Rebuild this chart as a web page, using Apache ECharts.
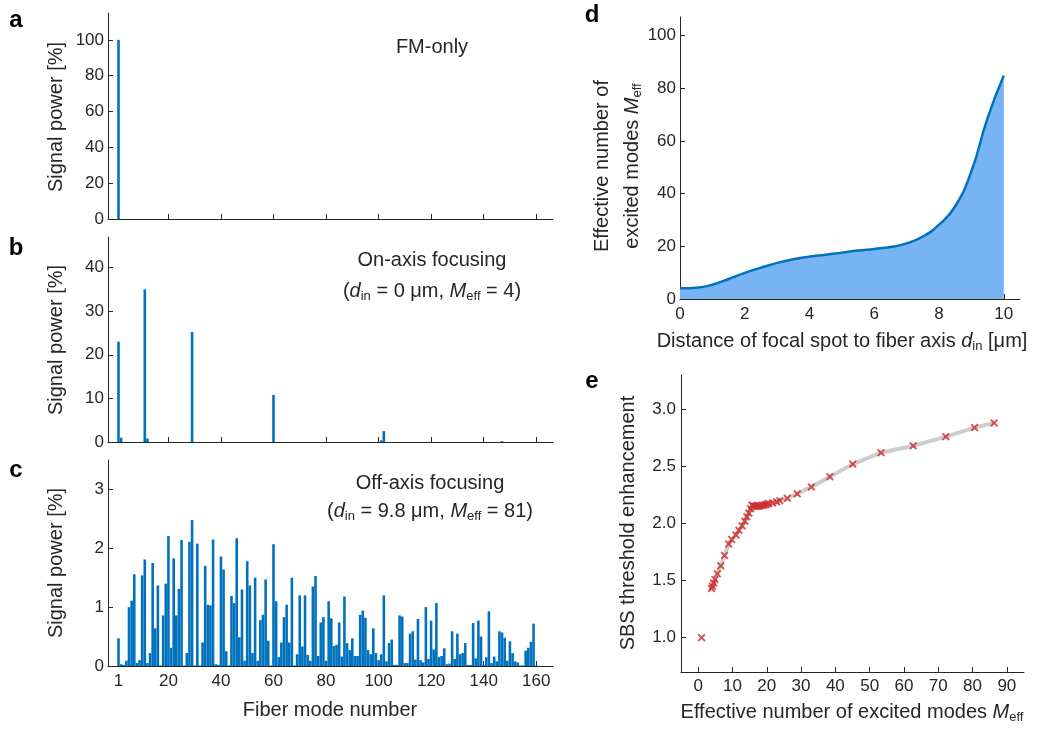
<!DOCTYPE html>
<html>
<head>
<meta charset="utf-8">
<script src="https://cdn.jsdelivr.net/npm/echarts@6/dist/echarts.min.js"></script>
<style>
  html, body { margin: 0; padding: 0; background: #fff; }
  #chart { width: 1053px; height: 731px; }
</style>
</head>
<body>
<div id="chart"></div>
<script>
// Mode-number ticks shared by panels a-c
const modeTicks = [1, 20, 40, 60, 80, 100, 120, 140, 160];

// a: fundamental mode only (mode number, signal power in %)
const fmOnlyModes = [1];
const fmOnlyPower = [100];

// b: on-axis focusing
const onAxisModes = [1, 2, 11, 12, 29, 60, 101, 102, 147];
const onAxisPower = [23.0, 1.0, 35.0, 0.8, 25.2, 10.8, 0.4, 2.5, 0.2];

// c: off-axis focusing, power of modes 1..160
const offAxisPower = [
  0.47, 0.03, 0.02, 0.09, 1.00, 1.11, 1.56, 0.05, 0.10, 1.54,
  1.81, 0.05, 0.22, 1.75, 0.64, 1.37, 0.01, 0.86, 1.40, 2.21,
  0.31, 1.83, 0.86, 1.31, 2.14, 0.01, 0.22, 2.11, 2.48, 0.01,
  2.08, 0.01, 0.40, 1.70, 1.04, 1.03, 2.15, 0.03, 0.02, 1.86,
  1.64, 0.25, 0.01, 1.19, 1.07, 2.17, 0.49, 1.30, 0.09, 1.78,
  1.37, 0.22, 1.50, 0.09, 0.78, 0.87, 1.47, 0.43, 0.01, 2.07,
  1.10, 0.15, 0.40, 0.83, 1.04, 0.40, 1.50, 0.01, 0.20, 1.20,
  0.33, 1.20, 0.19, 0.09, 1.35, 1.53, 0.17, 0.74, 0.83, 0.09,
  1.10, 0.81, 0.34, 0.36, 0.74, 0.16, 1.18, 0.39, 0.27, 0.47,
  0.17, 0.17, 0.87, 0.94, 0.82, 0.27, 0.20, 0.64, 0.22, 0.10,
  0.20, 1.20, 0.08, 0.39, 0.45, 0.02, 0.02, 0.86, 0.84, 0.05,
  0.05, 0.55, 0.59, 0.11, 0.80, 0.10, 0.06, 1.00, 0.12, 0.77,
  0.28, 1.07, 0.15, 0.17, 0.30, 0.03, 0.04, 0.59, 0.12, 0.55,
  0.20, 0.22, 0.39, 0.02, 0.02, 0.73, 0.13, 0.77, 0.50, 0.02,
  0.15, 0.93, 0.05, 0.16, 0.08, 0.59, 0.57, 0.48, 0.09, 0.42,
  0.22, 0.08, 0.06, 0.01, 0.01, 0.26, 0.31, 0.41, 0.72, 0.01
];

// d: effective mode number vs. focal-spot offset d_in (µm)
const dinUm = [0, 0.5, 1, 1.5, 2, 2.5, 3, 3.5, 4, 4.5, 5, 5.5, 6, 6.5, 7, 7.5, 8, 8.5, 9, 9.5, 10];
const meffCurve = [4.1, 4.3, 5.4, 7.6, 9.9, 11.9, 13.7, 15.1, 16.1, 16.8, 17.6, 18.4, 19.0, 19.7, 21.1, 23.7, 28.2, 35.2, 48.5, 68.7, 84.8];

// e: SBS threshold enhancement vs. effective mode number
const meffPoints = [
  1.0,
  3.9, 4.2, 4.5, 4.9, 5.6, 6.6, 7.7, 8.9, 9.8, 11.0, 11.9, 12.8, 13.6, 14.2, 14.8, 15.3, 15.7,
  16.1, 16.6, 17.1, 17.6, 18.1, 18.6, 19.1, 19.6, 20.1, 20.6,
  21.7, 22.9, 23.8, 26.0, 28.9, 33.0, 38.4, 45.1, 53.3, 62.7, 72.2, 80.6, 86.3
];
const sbsEnhancement = [
  1.00,
  1.43, 1.45, 1.48, 1.51, 1.56, 1.63, 1.72, 1.82, 1.86, 1.90, 1.94, 1.98, 2.02, 2.06, 2.09, 2.13, 2.16,
  2.155, 2.15, 2.15, 2.15, 2.155, 2.16, 2.16, 2.165, 2.17, 2.175,
  2.18, 2.19, 2.20, 2.22, 2.26, 2.32, 2.41, 2.52, 2.62, 2.68, 2.76, 2.84, 2.88
];

const FONT = "'Liberation Sans', Arial, Helvetica, sans-serif";
const INK = '#262626';
const BLUE = '#0072BD';

function pairs(xs, ys) { return xs.map((x, i) => [x, ys[i]]); }

function valueAxis(gridIndex, min, max, ticks, opts) {
  opts = opts || {};
  const axisLabel = {
    show: opts.labels !== false,
    customValues: ticks,
    margin: opts.margin != null ? opts.margin : 7,
    color: INK,
    fontSize: 17,
    fontFamily: FONT
  };
  if (opts.formatter) axisLabel.formatter = opts.formatter;
  return {
    type: 'value',
    gridIndex: gridIndex,
    min: min,
    max: max,
    axisLine: { show: true, onZero: false, lineStyle: { color: INK, width: 1 } },
    axisTick: { show: true, inside: true, length: 5, customValues: ticks, lineStyle: { color: INK, width: 1 } },
    axisLabel: axisLabel,
    splitLine: { show: false }
  };
}

const RICH = {
  i: { fontStyle: 'italic', fontSize: 20, fontFamily: FONT, lineHeight: 24 },
  sub: { fontSize: 13, fontFamily: FONT, lineHeight: 12, verticalAlign: 'bottom' }
};

function text(x, y, str, o) {
  o = o || {};
  return {
    type: 'text',
    x: x,
    y: y,
    rotation: o.rotate ? Math.PI / 2 : 0,
    silent: true,
    style: {
      text: str,
      fontSize: o.size || 20,
      fontWeight: o.weight || 'normal',
      fontFamily: FONT,
      fill: o.fill || INK,
      align: 'center',
      verticalAlign: 'middle',
      lineHeight: 24,
      rich: RICH
    }
  };
}

const yPowerTitle = 'Signal power [%]';

const option = {
  animation: false,
  backgroundColor: '#ffffff',
  textStyle: { fontFamily: FONT },
  grid: [
    { left: 108, top: 13, width: 445, height: 206, outerBoundsMode: 'none' },
    { left: 108, top: 237, width: 445, height: 205, outerBoundsMode: 'none' },
    { left: 108, top: 460, width: 445, height: 206, outerBoundsMode: 'none' },
    { left: 680, top: 17, width: 340, height: 282, outerBoundsMode: 'none' },
    { left: 681, top: 375, width: 343, height: 297, outerBoundsMode: 'none' }
  ],
  xAxis: [
    valueAxis(0, -3, 166.4, modeTicks, { labels: false }),
    valueAxis(1, -3, 166.4, modeTicks, { labels: false }),
    valueAxis(2, -3, 166.4, modeTicks),
    valueAxis(3, 0, 10.5, [0, 2, 4, 6, 8, 10]),
    valueAxis(4, -5, 95, [0, 10, 20, 30, 40, 50, 60, 70, 80, 90], { margin: 6 })
  ],
  yAxis: [
    valueAxis(0, 0, 115, [0, 20, 40, 60, 80, 100], { margin: 4 }),
    valueAxis(1, 0, 47, [0, 10, 20, 30, 40], { margin: 4 }),
    valueAxis(2, 0, 3.5, [0, 1, 2, 3], { margin: 4 }),
    valueAxis(3, 0, 107, [0, 20, 40, 60, 80, 100], { margin: 4 }),
    valueAxis(4, 0.7, 3.3, [1, 1.5, 2, 2.5, 3], { margin: 5, formatter: v => v.toFixed(1) })
  ],
  series: [
    {
      name: 'FM-only', type: 'bar', xAxisIndex: 0, yAxisIndex: 0,
      barWidth: 2.6, itemStyle: { color: BLUE },
      data: pairs(fmOnlyModes, fmOnlyPower)
    },
    {
      name: 'On-axis focusing', type: 'bar', xAxisIndex: 1, yAxisIndex: 1,
      barWidth: 2.6, itemStyle: { color: BLUE },
      data: pairs(onAxisModes, onAxisPower)
    },
    {
      name: 'Off-axis focusing', type: 'bar', xAxisIndex: 2, yAxisIndex: 2,
      barWidth: 2.6, itemStyle: { color: BLUE },
      data: offAxisPower.map((v, i) => [i + 1, v])
    },
    {
      name: 'Meff', type: 'line', xAxisIndex: 3, yAxisIndex: 3,
      smooth: 0.5, symbol: 'none',
      lineStyle: { color: BLUE, width: 2.5 },
      areaStyle: { color: '#78B4F4', opacity: 1 },
      data: pairs(dinUm, meffCurve)
    },
    {
      name: 'trend', type: 'line', xAxisIndex: 4, yAxisIndex: 4,
      symbol: 'none', z: 1,
      lineStyle: { color: '#CDCDCD', width: 4 },
      data: pairs(meffPoints, sbsEnhancement).slice(1)
    },
    {
      name: 'SBS', type: 'scatter', xAxisIndex: 4, yAxisIndex: 4, z: 3,
      symbol: 'path://M0,1.7L1.7,0L5,3.3L8.3,0L10,1.7L6.7,5L10,8.3L8.3,10L5,6.7L1.7,10L0,8.3L3.3,5Z',
      symbolSize: 8,
      itemStyle: { color: '#CC2B2B' },
      data: pairs(meffPoints, sbsEnhancement)
    }
  ],
  graphic: [
    text(16, 20, 'a', { size: 24, weight: 'bold', fill: '#000' }),
    text(16, 248, 'b', { size: 24, weight: 'bold', fill: '#000' }),
    text(16, 470, 'c', { size: 24, weight: 'bold', fill: '#000' }),
    text(592, 15, 'd', { size: 24, weight: 'bold', fill: '#000' }),
    text(592, 381, 'e', { size: 24, weight: 'bold', fill: '#000' }),

    text(56, 117, yPowerTitle, { rotate: true }),
    text(56, 340, yPowerTitle, { rotate: true }),
    text(56, 563, yPowerTitle, { rotate: true }),
    text(330, 710, 'Fiber mode number'),

    text(432, 47, 'FM-only'),
    text(432, 260, 'On-axis focusing'),
    text(432, 291, '({i|d}{sub|in} = 0 μm, {i|M}{sub|eff} = 4)'),
    text(430, 483, 'Off-axis focusing'),
    text(430, 511, '({i|d}{sub|in} = 9.8 μm, {i|M}{sub|eff} = 81)'),

    text(602, 166, 'Effective number of', { rotate: true }),
    text(632, 166, 'excited modes {i|M}{sub|eff}', { rotate: true }),
    text(842, 341, 'Distance of focal spot to fiber axis {i|d}{sub|in} [μm]'),

    text(628, 523, 'SBS threshold enhancement', { rotate: true }),
    text(852, 712, 'Effective number of excited modes {i|M}{sub|eff}')
  ]
};

const chart = echarts.init(document.getElementById('chart'), null, { renderer: 'canvas' });
chart.setOption(option);
</script>
</body>
</html>
